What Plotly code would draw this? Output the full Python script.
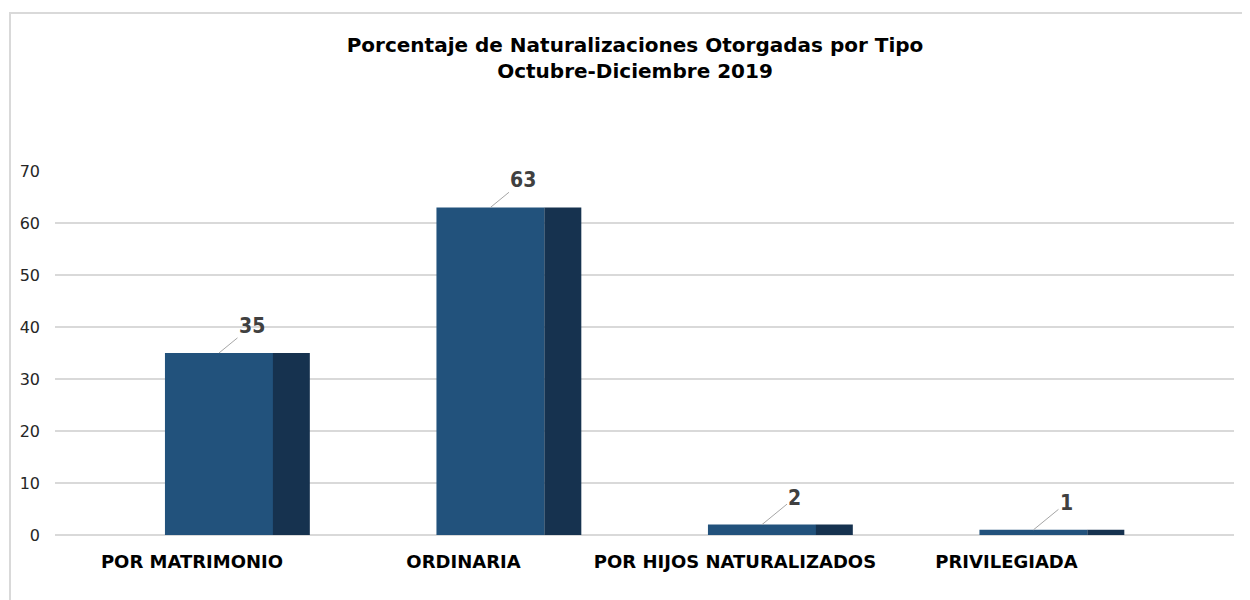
import plotly.graph_objects as go

categories = ["POR MATRIMONIO", "ORDINARIA", "POR HIJOS NATURALIZADOS", "PRIVILEGIADA"]
values = [35, 63, 2, 1]
y_ticks = [0, 10, 20, 30, 40, 50, 60, 70]

FRONT = "#22527c"
SIDE = "#16324f"

pos = list(range(len(categories)))
front_off, front_w = 0.0994, 0.398
side_off, side_w = 0.366, 0.136

fig = go.Figure()
fig.add_trace(go.Bar(x=[p + front_off for p in pos], y=values, width=front_w,
                     marker=dict(color=FRONT, line=dict(width=0)), hoverinfo="skip"))
fig.add_trace(go.Bar(x=[p + side_off for p in pos], y=values, width=side_w,
                     marker=dict(color=SIDE, line=dict(width=0)), hoverinfo="skip"))

for p, v in zip(pos, values):
    fig.add_annotation(x=p + front_off, y=v, xref="x", yref="y",
                       text=f"<b>{v}</b>", showarrow=True, arrowhead=0,
                       arrowcolor="#a6a6a6", arrowwidth=1, ax=33, ay=-27,
                       font=dict(family="DejaVu Sans Condensed, DejaVu Sans", size=21, color="#404040"))

W, H = 1242, 592
L, R, T, B = 47, 16, 163, 65
pw, ph = W - L - R, H - T - B

fig.add_shape(type="rect", xref="paper", yref="paper",
              x0=(2 - L) / pw, x1=(W + 20 - L) / pw,
              y0=-(B + 20) / ph, y1=1 + (T - 5) / ph,
              line=dict(color="#d9d9d9", width=2), fillcolor="rgba(0,0,0,0)", layer="below")

fig.update_layout(
    width=W, height=H,
    margin=dict(l=L, r=R, t=T, b=B),
    paper_bgcolor="white", plot_bgcolor="white",
    showlegend=False, barmode="overlay",
    title=dict(text="<b>Porcentaje de Naturalizaciones Otorgadas por Tipo<br>Octubre-Diciembre 2019</b>",
               x=627 / W, xanchor="center", y=1 - 44 / H, yanchor="top",
               font=dict(family="DejaVu Sans", size=20, color="black")),
    xaxis=dict(range=[-0.5046, 3.838], tickvals=pos,
               ticktext=[f"<b>{c}</b>" for c in categories],
               showgrid=False, zeroline=False, showline=False, ticks="",
               ticklabelstandoff=14,
               tickfont=dict(family="DejaVu Sans", size=18, color="black")),
    yaxis=dict(range=[0, 70], tickvals=y_ticks, showgrid=True, gridcolor="#d9d9d9",
               gridwidth=2, zeroline=True, zerolinecolor="#d9d9d9", zerolinewidth=2,
               showline=False, ticks="", ticklabelstandoff=14,
               tickfont=dict(family="DejaVu Sans, Verdana", size=16, color="#262626")),
)

fig.write_html("out.html")
